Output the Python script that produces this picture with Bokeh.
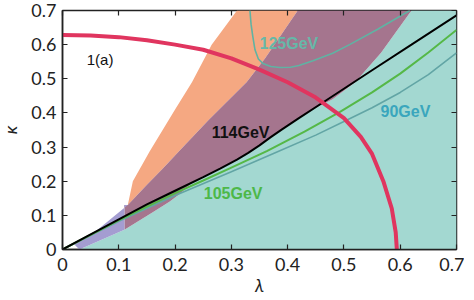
from bokeh.plotting import figure
from bokeh.models import Range1d, FixedTicker, LinearAxis, Label
from bokeh.embed import file_html
from bokeh.resources import INLINE

# ---- tick values / labels ----
tick_vals = [0, 0.1, 0.2, 0.3, 0.4, 0.5, 0.6, 0.7]
tick_labels = ["0", "0.1", "0.2", "0.3", "0.4", "0.5", "0.6", "0.7"]

# ---- filled regions (lambda, kappa) ----
teal_lam = [0.03, 0.7, 0.7, 0.62, 0.566, 0.52, 0.48, 0.45, 0.42, 0.39, 0.37, 0.35, 0.33, 0.31, 0.28, 0.25, 0.23,
            0.21, 0.19, 0.159, 0.11]
teal_kap = [0.0, 0.0, 0.7, 0.7, 0.576, 0.49, 0.44, 0.415, 0.385, 0.352, 0.329, 0.305, 0.283, 0.263, 0.237, 0.212,
            0.196, 0.165, 0.14, 0.108, 0.058]

orange_lam = [0.116, 0.125, 0.155, 0.2, 0.23, 0.265, 0.31, 0.418, 0.36, 0.327, 0.26, 0.207, 0.18, 0.15]
orange_kap = [0.13, 0.2, 0.288, 0.41, 0.49, 0.6, 0.7, 0.7, 0.56, 0.49, 0.38, 0.288, 0.24, 0.19]

mauve_lam = [0.11, 0.11, 0.116, 0.15, 0.18, 0.207, 0.26, 0.327, 0.36, 0.418, 0.62, 0.566, 0.52, 0.48,
             0.45, 0.42, 0.39, 0.37, 0.35, 0.33, 0.31, 0.28, 0.25, 0.23, 0.21, 0.19, 0.159]
mauve_kap = [0.058, 0.13, 0.13, 0.19, 0.24, 0.288, 0.38, 0.49, 0.56, 0.70, 0.70, 0.576, 0.49, 0.44,
             0.415, 0.385, 0.352, 0.329, 0.305, 0.283, 0.263, 0.237, 0.212, 0.196, 0.165, 0.14, 0.108]

lav_lam = [0.03, 0.11, 0.11, 0.116, 0.058, 0.02]
lav_kap = [0.0, 0.058, 0.13, 0.13, 0.052, 0.017]

# ---- contour lines ----
m90_lam = [0, 0.1, 0.2, 0.3, 0.38, 0.45, 0.5, 0.55, 0.6, 0.65, 0.7]
m90_kap = [0, 0.083, 0.158, 0.228, 0.285, 0.335, 0.375, 0.415, 0.46, 0.512, 0.576]

m105_lam = [0, 0.1, 0.2, 0.25, 0.3, 0.363, 0.43, 0.493, 0.55, 0.6, 0.65, 0.7]
m105_kap = [0, 0.086, 0.165, 0.202, 0.24, 0.288, 0.345, 0.403, 0.46, 0.515, 0.577, 0.643]

m114_lam = [0, 0.05, 0.1, 0.15, 0.2, 0.25, 0.28, 0.31, 0.33, 0.35, 0.37, 0.39, 0.42, 0.464, 0.55, 0.62, 0.7]
m114_kap = [0, 0.044, 0.088, 0.132, 0.172, 0.212, 0.237, 0.263, 0.283, 0.305, 0.329, 0.352, 0.385, 0.432,
            0.525, 0.6, 0.686]

m125_lam = [0.333, 0.335, 0.338, 0.342, 0.348, 0.356, 0.37, 0.386, 0.405, 0.42, 0.445, 0.48, 0.51, 0.56, 0.617]
m125_kap = [0.70, 0.66, 0.625, 0.585, 0.558, 0.545, 0.536, 0.533, 0.534, 0.539, 0.553, 0.575, 0.6, 0.645, 0.70]

red_lam = [0, 0.05, 0.1, 0.15, 0.2, 0.25, 0.3, 0.35, 0.4, 0.45, 0.5, 0.53, 0.55, 0.57, 0.585, 0.592, 0.594]
red_kap = [0.628, 0.627, 0.622, 0.613, 0.6, 0.585, 0.56, 0.527, 0.49, 0.445, 0.385, 0.33, 0.28, 0.2, 0.12,
           0.05, 0.0]

p = figure(frame_width=394, frame_height=239, output_backend="svg", toolbar_location=None,
           x_range=Range1d(0, 0.7), y_range=Range1d(0, 0.7),
           min_border_left=59, min_border_right=8, min_border_top=18, min_border_bottom=50)
p.margin = (-8, 0, 0, -4)
p.grid.visible = False
p.outline_line_color = "#222222"
p.outline_line_width = 1.5
p.background_fill_color = "white"
p.border_fill_color = "white"

overrides = {v: t for v, t in zip(tick_vals, tick_labels)}

def style_axis(ax, show_labels=True):
    ax.ticker = FixedTicker(ticks=tick_vals)
    ax.major_tick_in = 5
    ax.major_tick_out = 0
    ax.minor_tick_line_color = None
    ax.major_tick_line_color = "#222222"
    ax.major_tick_line_width = 1.2
    ax.axis_line_color = "#222222"
    ax.axis_line_width = 1.5
    if show_labels:
        ax.major_label_overrides = overrides
        ax.major_label_text_font = "Lato"
        ax.major_label_text_font_size = "18px"
        ax.major_label_text_color = "#222222"
        ax.major_label_standoff = 6
    else:
        ax.major_label_text_font_size = "0px"
        ax.major_label_text_color = None
        ax.major_label_standoff = 0
        ax.axis_line_color = None

style_axis(p.xaxis[0])
style_axis(p.yaxis[0])
p.xaxis[0].major_label_standoff = 8
p.xaxis.axis_label = "λ"
p.yaxis.axis_label = "κ"
for ax in (p.xaxis[0], p.yaxis[0]):
    ax.axis_label_text_font = "Lato"
    ax.axis_label_text_font_style = "italic"
    ax.axis_label_text_font_size = "18px"
    ax.axis_label_text_color = "#222222"
p.xaxis[0].axis_label_standoff = 0
p.yaxis[0].axis_label_standoff = 7

top = LinearAxis()
style_axis(top, show_labels=False)
p.add_layout(top, "above")
right = LinearAxis()
style_axis(right, show_labels=False)
p.add_layout(right, "right")

# regions
p.patch(teal_lam, teal_kap, fill_color="#a3d8d1", line_color=None)
p.patch(orange_lam, orange_kap, fill_color="#f5a882", line_color=None)
p.patch(mauve_lam, mauve_kap, fill_color="#a5758e", line_color=None)
p.patch(lav_lam, lav_kap, fill_color="#a49dd1", line_color=None)

# lines
p.line(m90_lam, m90_kap, line_color="#62a5a5", line_width=1.6)
p.line(m105_lam, m105_kap, line_color="#55b847", line_width=2)
p.line(m114_lam, m114_kap, line_color="black", line_width=2)
p.line(m125_lam, m125_kap, line_color="#5fb3a3", line_width=1.6)
p.line(red_lam, red_kap, line_color="#e0355f", line_width=4)

def add_label(x, y, text, color, bold=True, size="16px"):
    p.add_layout(Label(x=x, y=y, text=text, text_color=color, text_font="Liberation Sans",
                       text_font_style="bold" if bold else "normal", text_font_size=size,
                       text_baseline="middle", text_align="left"))

add_label(0.043, 0.556, "1(a)", "#111111", bold=False, size="15px")
add_label(0.35, 0.602, "125GeV", "#66b8a8")
add_label(0.265, 0.343, "114GeV", "#111111")
add_label(0.251, 0.163, "105GeV", "#4db849")
add_label(0.565, 0.403, "90GeV", "#3aa6bd")

open("out.html", "w").write(file_html(p, INLINE))
